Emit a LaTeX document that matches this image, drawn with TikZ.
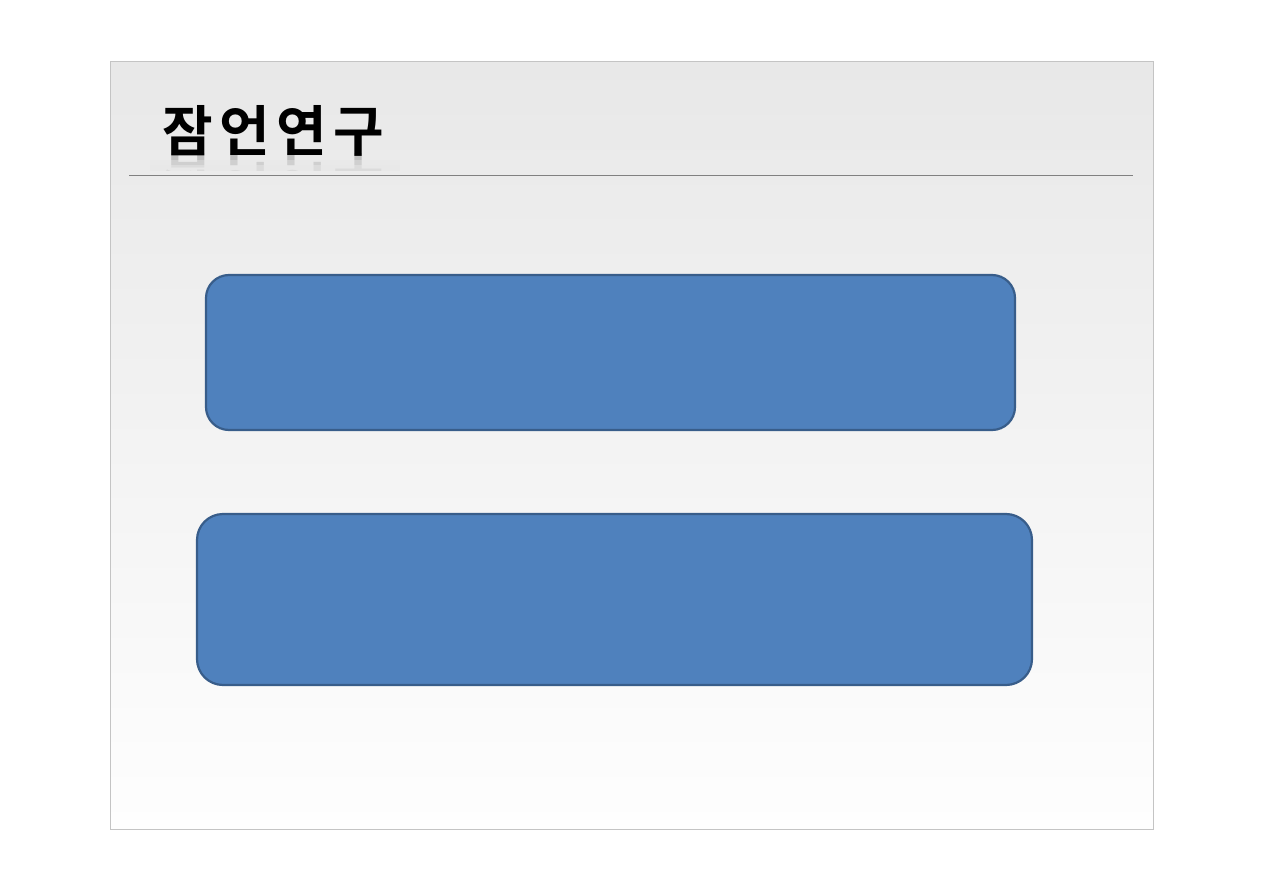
\documentclass[tikz,border=0pt]{standalone}
\usepackage{fontspec}
\newfontfamily\krfont[LetterSpace=12]{Noto Sans CJK KR Bold}
\definecolor{boxfill}{HTML}{4F81BD}
\definecolor{boxline}{HTML}{385D8A}
\definecolor{slidetop}{HTML}{E8E8E8}
\definecolor{slidebot}{HTML}{FEFEFE}
\definecolor{slideborder}{HTML}{C4C4C4}
\begin{document}
\begin{tikzpicture}[x=1pt,y=-1pt,
  bluebox/.style={draw=boxline,line width=2.2pt,fill=boxfill,rounded corners=23pt,inner sep=0pt},
  titletext/.style={font=\krfont\fontsize{55}{60}\selectfont,inner sep=0pt,anchor=base west}]
\useasboundingbox (0,0) rectangle (1263,893);
\fill[white] (0,0) rectangle (1263,893);
% slide
\shade[top color=slidetop,bottom color=slidebot] (110,62) rectangle (1153,829);
\draw[slideborder,line width=1pt] (110,62) rectangle (1153,829);
% title with reflection
\begin{scope}
\clip (150,154) rectangle (400,171);
\node[titletext,text=black!25,yscale=-1,anchor=base west] (titlerefl) at (162,154) {잠언연구};
\end{scope}
\fill[slidetop,opacity=0.4] (150,160) rectangle (400,165);
\fill[slidetop,opacity=0.7] (150,165) rectangle (400,171);
\node[titletext,text=black] (title) at (162,152) {잠언연구};
% rule
\draw[black!50,line width=0.8pt] (129,175.5) -- (1133,175.5);
% boxes
\node[bluebox,minimum width=809pt,minimum height=155pt] (box1) at (610.5,352.5) {};
\node[bluebox,rounded corners=26pt,minimum width=835pt,minimum height=171pt] (box2) at (614.5,599.5) {};
\end{tikzpicture}
\end{document}
